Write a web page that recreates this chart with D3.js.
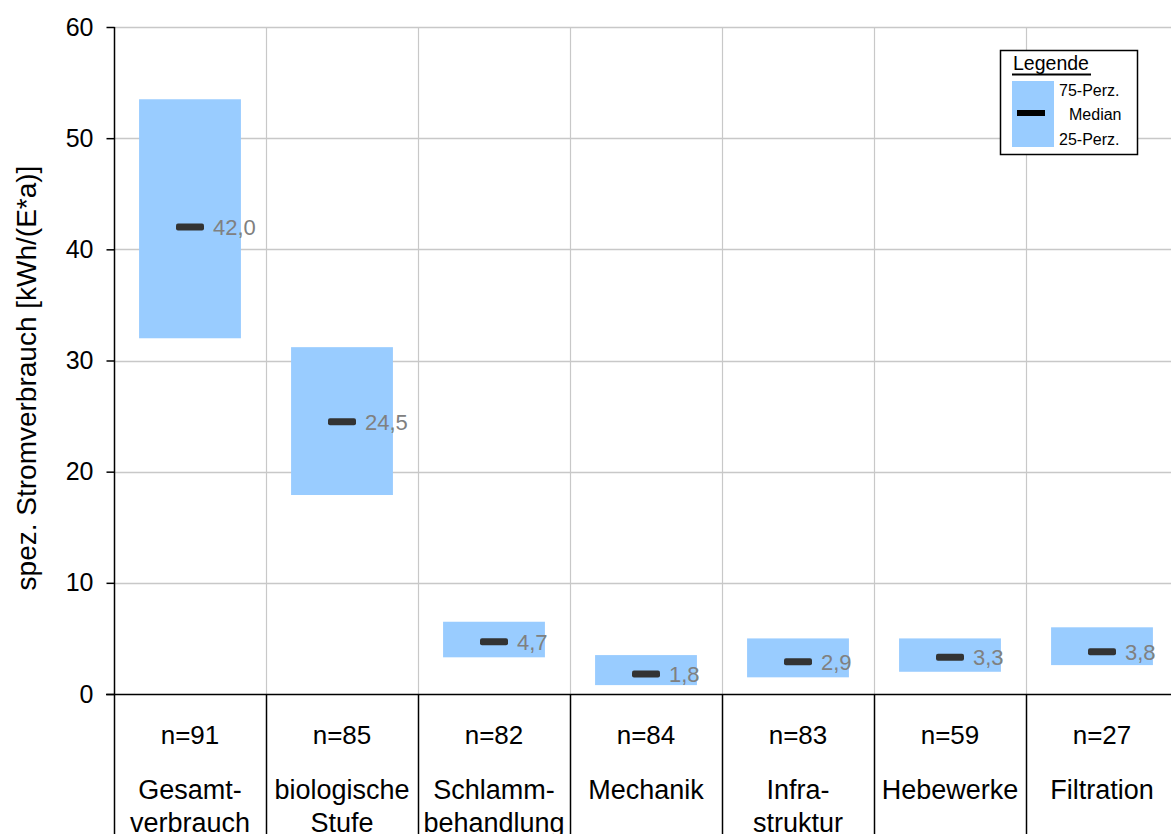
<!DOCTYPE html>
<html>
<head>
<meta charset="utf-8">
<script src="https://cdn.jsdelivr.net/npm/d3@7"></script>
<style>
  html, body { margin: 0; padding: 0; background: #fff; }
  svg { display: block; font-family: "Liberation Sans", Arial, sans-serif; }
</style>
</head>
<body>
<svg id="chart" width="1171" height="834"></svg>
<script>
// Spezifischer Stromverbrauch je Verfahrensstufe (25-/75-Perzentil und Median)
const categories = ["Gesamtverbrauch", "biologische Stufe", "Schlammbehandlung", "Mechanik", "Infrastruktur", "Hebewerke", "Filtration"];
const categoryLines = [["Gesamt-", "verbrauch"], ["biologische", "Stufe"], ["Schlamm-", "behandlung"], ["Mechanik"], ["Infra-", "struktur"], ["Hebewerke"], ["Filtration"]];
const sampleSizes = [91, 85, 82, 84, 83, 59, 27];
const perc25 = [32.0, 17.9, 3.3, 0.8, 1.5, 2.0, 2.6];
const medians = [42.0, 24.5, 4.7, 1.8, 2.9, 3.3, 3.8];
const perc75 = [53.5, 31.2, 6.5, 3.5, 5.0, 5.0, 6.0];
const yTicks = [0, 10, 20, 30, 40, 50, 60];

const svg = d3.select("#chart");
const FONT = '"Liberation Sans", Arial, sans-serif';

const plot = { left: 114, right: 1178, top: 27, bottom: 694 };

const x = d3.scaleBand()
  .domain(categories)
  .range([plot.left, plot.right])
  .padding(0);

const y = d3.scaleLinear()
  .domain([0, 60])
  .range([plot.bottom, plot.top]);

const barW = x.bandwidth() * 0.67;
const gridColor = "#c8c8c8";

// horizontal grid lines
svg.append("g")
  .selectAll("line")
  .data(yTicks.filter(t => t > 0))
  .join("line")
  .attr("x1", plot.left).attr("x2", plot.right)
  .attr("y1", d => Math.round(y(d)) + 0.5).attr("y2", d => Math.round(y(d)) + 0.5)
  .attr("stroke", gridColor).attr("stroke-width", 1.5);

// vertical grid lines between categories (plot area)
svg.append("g")
  .selectAll("line")
  .data(categories.slice(1))
  .join("line")
  .attr("x1", d => Math.round(x(d)) + 0.5).attr("x2", d => Math.round(x(d)) + 0.5)
  .attr("y1", plot.top).attr("y2", plot.bottom)
  .attr("stroke", gridColor).attr("stroke-width", 1.2);

// interquartile boxes
svg.append("g")
  .selectAll("rect")
  .data(categories)
  .join("rect")
  .attr("x", d => x(d) + (x.bandwidth() - barW) / 2)
  .attr("width", barW)
  .attr("y", (d, i) => y(perc75[i]))
  .attr("height", (d, i) => y(perc25[i]) - y(perc75[i]))
  .attr("fill", "#99ccff");

// median markers
svg.append("g")
  .selectAll("rect")
  .data(categories)
  .join("rect")
  .attr("x", d => x(d) + x.bandwidth() / 2 - 14)
  .attr("y", (d, i) => y(medians[i]) - 3.5)
  .attr("width", 28).attr("height", 7)
  .attr("rx", 2)
  .attr("fill", "#333333");

// median value labels
const fmt = v => v.toFixed(1).replace(".", ",");
svg.append("g")
  .selectAll("text")
  .data(categories)
  .join("text")
  .attr("x", d => x(d) + x.bandwidth() / 2 + 23)
  .attr("y", (d, i) => y(medians[i]))
  .attr("dy", "0.36em")
  .attr("font-family", FONT)
  .attr("font-size", 22)
  .attr("fill", "#808080")
  .text((d, i) => fmt(medians[i]));

// y axis
const yAxis = d3.axisLeft(y).tickValues(yTicks).tickSize(8).tickPadding(13).tickFormat(d3.format("d"));
const gy = svg.append("g")
  .attr("transform", `translate(${plot.left + 0.5},0)`)
  .call(yAxis);
gy.select(".domain").remove();
gy.selectAll(".tick line").attr("stroke", "#000").attr("stroke-width", 1.5);
gy.selectAll(".tick text")
  .attr("font-family", FONT)
  .attr("font-size", 25)
  .attr("fill", "#000");

// axis line running down through the table
svg.append("line")
  .attr("x1", plot.left + 0.5).attr("x2", plot.left + 0.5)
  .attr("y1", plot.top).attr("y2", 834)
  .attr("stroke", "#000").attr("stroke-width", 1.5);

// baseline of the table
svg.append("line")
  .attr("x1", plot.left - 8).attr("x2", plot.right)
  .attr("y1", plot.bottom + 0.5).attr("y2", plot.bottom + 0.5)
  .attr("stroke", "#000").attr("stroke-width", 1.5);

// table cell separators
svg.append("g")
  .selectAll("line")
  .data(categories.slice(1))
  .join("line")
  .attr("x1", d => Math.round(x(d)) + 0.5).attr("x2", d => Math.round(x(d)) + 0.5)
  .attr("y1", plot.bottom).attr("y2", 834)
  .attr("stroke", "#000").attr("stroke-width", 1.5);

// table text: sample sizes and category names
const cells = svg.append("g")
  .selectAll("g")
  .data(categories)
  .join("g")
  .attr("transform", d => `translate(${x(d) + x.bandwidth() / 2},0)`);

cells.append("text")
  .attr("y", 744)
  .attr("text-anchor", "middle")
  .attr("font-family", FONT)
  .attr("font-size", 26)
  .text((d, i) => "n=" + sampleSizes[i]);

cells.each(function (d, i) {
  const g = d3.select(this);
  categoryLines[i].forEach((line, k) => {
    g.append("text")
      .attr("y", 799 + k * 33)
      .attr("text-anchor", "middle")
      .attr("font-family", FONT)
      .attr("font-size", 27)
      .text(line);
  });
});

// y axis title
svg.append("text")
  .attr("transform", `translate(36,378) rotate(-90)`)
  .attr("text-anchor", "middle")
  .attr("font-family", FONT)
  .attr("font-size", 28)
  .text("spez. Stromverbrauch [kWh/(E*a)]");

// legend
const lg = svg.append("g");
lg.append("rect")
  .attr("x", 1000.5).attr("y", 50.5)
  .attr("width", 137).attr("height", 104)
  .attr("fill", "#fff").attr("stroke", "#000").attr("stroke-width", 1.5);
lg.append("text")
  .attr("x", 1013).attr("y", 70)
  .attr("font-family", FONT).attr("font-size", 19.5)
  .text("Legende");
lg.append("line")
  .attr("x1", 1012).attr("x2", 1091)
  .attr("y1", 74.5).attr("y2", 74.5)
  .attr("stroke", "#000").attr("stroke-width", 2);
lg.append("rect")
  .attr("x", 1012).attr("y", 81)
  .attr("width", 42).attr("height", 66)
  .attr("fill", "#99ccff");
lg.append("rect")
  .attr("x", 1017).attr("y", 110)
  .attr("width", 28).attr("height", 6)
  .attr("fill", "#000");
const legendLabels = [["75-Perz.", 1059, 96], ["Median", 1069, 120], ["25-Perz.", 1059, 145]];
lg.selectAll("text.lab")
  .data(legendLabels)
  .join("text")
  .attr("class", "lab")
  .attr("x", d => d[1]).attr("y", d => d[2])
  .attr("font-family", FONT).attr("font-size", 16)
  .text(d => d[0]);
</script>
</body>
</html>
